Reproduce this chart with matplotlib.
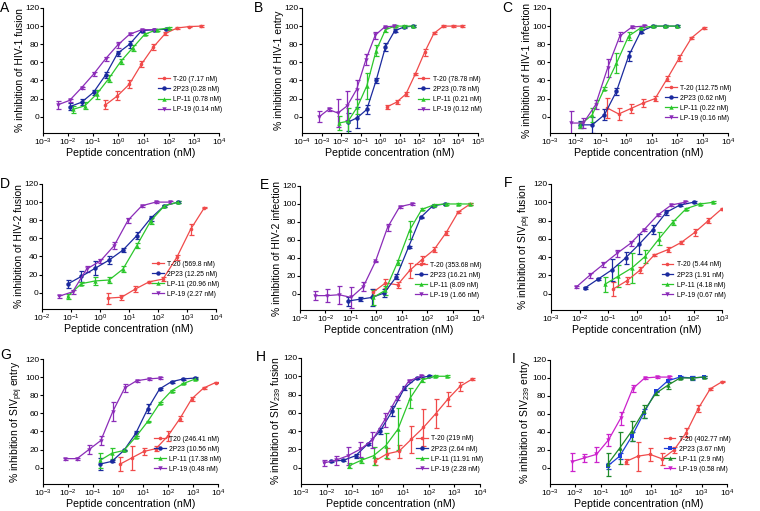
import matplotlib
matplotlib.use("Agg")
import matplotlib.pyplot as plt

plt.rcParams["font.family"] = ["Liberation Sans", "DejaVu Sans"]
plt.rcParams["mathtext.fontset"] = "custom"
plt.rcParams["mathtext.rm"] = "Liberation Sans"
plt.rcParams["mathtext.it"] = "Liberation Sans:italic"
plt.rcParams["mathtext.default"] = "regular"

RED = "#f04a4a"
BLUE = "#1b2a9e"
GREEN = "#2cc72c"
PURPLE = "#8b2cb8"

# concentrations from 3-fold dilution series (nM)
def dil(top, n=9):
    return [top / 3 ** k for k in range(n - 1, -1, -1)]

# ---------------------------------------------------------------------------
# A  HIV-1 fusion
# ---------------------------------------------------------------------------
a_t20_x = dil(2000)
a_t20_y = [13, 23, 36, 58, 77, 92, 98, 99.5, 100]
a_t20_e = [5, 5, 4, 3, 3, 2, 1, 1, 1]
a_2p23_x = dil(75)
a_2p23_y = [11, 16, 27, 46, 70, 80, 95, 96, 96.5]
a_2p23_e = [4, 3, 3, 3, 3, 4, 1, 1, 1]
a_lp11_x = dil(100)
a_lp11_y = [8, 12, 25, 42, 61, 76, 91, 96, 98]
a_lp11_e = [4, 4, 5, 4, 3, 3, 1, 1, 1]
a_lp19_x = dil(25)
a_lp19_y = [13, 18, 32, 47, 64, 79, 91, 96, 96]
a_lp19_e = [4, 2, 1, 2, 2, 3, 1, 1, 1]
a_labels = ["T-20 (7.17 nM)", "2P23 (0.28 nM)", "LP-11 (0.78 nM)", "LP-19 (0.14 nM)"]

# B  HIV-1 entry
b_t20_x = dil(15000)
b_t20_y = [11, 16, 25, 47, 71, 92, 100, 100, 100]
b_t20_e = [2, 2, 2, 1, 4, 1, 1, 1, 1]
b_2p23_x = dil(50, 8)
b_2p23_y = [-6, -1, 8, 40, 77, 95, 99, 100]
b_2p23_e = [10, 12, 5, 3, 4, 2, 1, 1]
b_lp11_x = dil(50)
b_lp11_y = [-7, -5, 11, 34, 73, 96, 100, 100, 100]
b_lp11_e = [8, 15, 8, 14, 6, 3, 1, 1, 1]
b_lp19_x = dil(5)
b_lp19_y = [0, 8, 4, 12, 30, 63, 90, 99, 100]
b_lp19_e = [6, 2, 15, 16, 11, 6, 4, 1, 1]
b_labels = ["T-20 (78.78 nM)", "2P23 (0.78 nM)", "LP-11 (0.21 nM)", "LP-19 (0.12 nM)"]

# C  HIV-1 infection
c_t20_x = dil(1100)
c_t20_y = [10, 3, 9, 15, 20, 42, 65, 87, 98]
c_t20_e = [11, 7, 5, 4, 3, 3, 3, 1, 1]
c_2p23_x = dil(100)
c_2p23_y = [-9, -9, 2, 28, 67, 94, 100, 100, 100]
c_2p23_e = [4, 9, 6, 4, 6, 2, 1, 1, 1]
c_lp11_x = dil(100)
c_lp11_y = [-9, 2, 31, 59, 89, 98, 100, 100, 100]
c_lp11_e = [3, 8, 2, 11, 4, 1, 1, 1, 1]
c_lp19_x = dil(5, 7)
c_lp19_y = [-7, -7, 13, 54, 89, 99, 100]
c_lp19_e = [13, 6, 5, 10, 5, 1, 1]
c_labels = ["T-20 (112.75 nM)", "2P23 (0.62 nM)", "LP-11 (0.22 nM)", "LP-19 (0.16 nM)"]

# D  HIV-2 fusion
d_t20_x = dil(4000, 8)
d_t20_y = [-6, -5, 4, 12, 15, 39, 70, 94]
d_t20_e = [6, 3, 3, 1, 2, 3, 6, 1]
d_2p23_x = dil(500)
d_2p23_y = [9.5, 18, 27, 36, 47, 63, 82, 96, 100]
d_2p23_e = [4, 6, 8, 4, 2, 4, 3, 1, 1]
d_lp11_x = dil(500)
d_lp11_y = [-4, 10, 13, 14, 26, 52, 79, 96, 100]
d_lp11_e = [3, 2, 4, 3, 3, 3, 3, 1, 1]
d_lp19_x = dil(250)
d_lp19_y = [-4, 1, 26, 35, 52, 80, 96, 100, 100]
d_lp19_e = [2, 2, 3, 2, 4, 3, 1, 1, 1]
d_labels = ["T-20 (569.8 nM)", "2P23 (12.25 nM)", "LP-11 (20.96 nM)", "LP-19 (2.27 nM)"]

# E  HIV-2 infection
e_t20_x = dil(5000)
e_t20_y = [2, 12, 10, 26, 38, 49, 68, 91, 100]
e_t20_e = [3, 5, 3, 8, 4, 3, 2, 1, 1]
e_2p23_x = dil(500)
e_2p23_y = [-8, -6, -4, 1, 19, 52, 85, 98, 100]
e_2p23_e = [5, 2, 9, 4, 3, 1, 1, 1, 1]
e_lp11_x = dil(5000)
e_lp11_y = [-4, 4, 35, 71, 94, 99, 100, 100, 100]
e_lp11_e = [8, 5, 3, 10, 1, 1, 1, 1, 1]
e_lp19_x = dil(25)
e_lp19_y = [-2, -2, -1, -4, 8, 36, 74, 97, 100]
e_lp19_e = [5, 7, 10, 12, 5, 1, 4, 1, 1]
e_labels = ["T-20 (353.68 nM)", "2P23 (16.21 nM)", "LP-11 (8.09 nM)", "LP-19 (1.66 nM)"]

# F  SIVpbj fusion
f_t20_x = dil(1000)
f_t20_y = [5, 14, 26, 42, 48, 56, 67, 80, 93]
f_t20_e = [8, 4, 3, 1, 3, 2, 4, 3, 1]
f_2p23_x = dil(100)
f_2p23_y = [6, 16, 26, 39, 54, 70, 89, 97, 100]
f_2p23_e = [1, 1, 12, 7, 11, 5, 3, 1, 1]
f_lp11_x = dil(500)
f_lp11_y = [10, 19, 28, 41, 60, 78, 93, 98, 100]
f_lp11_e = [8, 12, 16, 7, 7, 3, 1, 1, 1]
f_lp19_x = dil(50)
f_lp19_y = [7, 20, 32, 44, 55, 70, 86, 97, 100]
f_lp19_e = [1, 3, 3, 4, 3, 1, 1, 1, 1]
f_labels = ["T-20 (5.44 nM)", "2P23 (1.91 nM)", "LP-11 (4.18 nM)", "LP-19 (0.67 nM)"]

# G  SIVpbj entry
g_t20_x = dil(8000)
g_t20_y = [4, 11, 18, 21, 35, 54, 76, 88, 94]
g_t20_e = [8, 13, 4, 3, 6, 3, 2, 1, 1]
g_2p23_x = dil(1250)
g_2p23_y = [4, 7, 19, 38, 65, 87, 95, 98, 99]
g_2p23_e = [7, 1, 1, 3, 5, 1, 1, 1, 1]
g_lp11_x = dil(1250)
g_lp11_y = [8, 16, 19, 34, 51, 71, 85, 93, 98]
g_lp11_e = [8, 6, 1, 1, 1, 1, 1, 1, 1]
g_lp19_x = dil(50)
g_lp19_y = [10, 10, 20, 30, 62, 88, 96, 98, 99]
g_lp19_e = [1, 1, 5, 5, 10, 4, 1, 1, 1]
g_labels = ["T20 (246.41 nM)", "2P23 (10.56 nM)", "LP-11 (17.38 nM)", "LP-19 (0.48 nM)"]

# H  SIV239 fusion
h_t20_x = dil(5000)
h_t20_y = [7, 15, 18, 31, 44, 59, 75, 89, 97]
h_t20_e = [4, 6, 7, 15, 20, 16, 8, 5, 1]
h_2p23_x = dil(100)
h_2p23_y = [7, 8, 13, 26, 40, 62, 87, 98, 100]
h_2p23_e = [1, 1, 2, 1, 3, 5, 2, 1, 1]
h_lp11_x = dil(500)
h_lp11_y = [2, 8, 13, 24, 42, 76, 96, 100, 100]
h_lp11_e = [3, 3, 10, 14, 23, 11, 2, 1, 1]
h_lp19_x = dil(50)
h_lp19_y = [5, 8, 13, 20, 30, 52, 76, 95, 100]
h_lp19_e = [3, 5, 10, 8, 9, 8, 2, 1, 1]
h_labels = ["T-20 (219 nM)", "2P23 (2.64 nM)", "LP-11 (11.91 nM)", "LP-19 (2.28 nM)"]

# I  SIV239 entry
i_t20_x = dil(6561)
i_t20_y = [7, 13, 15, 10, 20, 39, 66, 88, 96]
i_t20_e = [3, 16, 7, 7, 3, 5, 4, 1, 1]
i_2p23_x = dil(1250)
i_2p23_y = [2, 13, 35, 61, 85, 97, 101, 100, 101]
i_2p23_e = [3, 3, 5, 5, 1, 2, 1, 2, 1]
i_lp11_x = dil(1250)
i_lp11_y = [4, 22, 41, 63, 83, 92, 100, 100, 101]
i_lp11_e = [13, 18, 11, 7, 2, 4, 1, 1, 1]
i_lp19_x = dil(50)
i_lp19_y = [7, 11, 15, 31, 55, 88, 100, 101, 101]
i_lp19_e = [10, 4, 8, 7, 7, 4, 1, 1, 1]
i_labels = ["T-20 (402.77 nM)", "2P23 (3.67 nM)", "LP-11 (2.9 nM)", "LP-19 (0.58 nM)"]

W, H = 760, 511
fig = plt.figure(figsize=(W / 100, H / 100), dpi=100)


def panel(box, letter, letter_xy, ylabel, xexp, series, labels, leg_y,
          colors=(RED, BLUE, GREEN, PURPLE), markers=("o", "o", "^", "v")):
    l, t, r, b = box
    ax = fig.add_axes([l / W, 1 - b / H, (r - l) / W, (b - t) / H])
    handles = []
    for (x, y, e), lab, c, m in zip(series, labels, colors, markers):
        ax.errorbar(x, y, yerr=e, fmt="none", ecolor=c, elinewidth=0.9,
                    capsize=1.8, capthick=0.9, zorder=2)
        ms = 2.6 if m == "o" and c == RED else 3.2
        ln, = ax.plot(x, y, color=c, lw=0.9, marker=m, ms=ms, mew=0, zorder=3)
        handles.append(ln)
    ax.set_xscale("log")
    ax.set_xlim(10.0 ** xexp[0], 10.0 ** xexp[1])
    ax.set_ylim(-18, 120)
    ax.set_yticks(range(0, 121, 20))
    ticks = list(range(xexp[0], xexp[1] + 1))
    ax.set_xticks([10.0 ** k for k in ticks])
    ax.set_xticklabels([f"$10^{{{k}}}$" for k in ticks])
    ax.minorticks_off()
    ax.tick_params(labelsize=6, length=2, width=0.8, pad=0.8)
    for s in ("top", "right"):
        ax.spines[s].set_visible(False)
    for s in ("left", "bottom"):
        ax.spines[s].set_linewidth(0.8)
    ax.set_xlabel("Peptide concentration (nM)", fontsize=7.7, labelpad=0)
    ax.set_ylabel(ylabel, fontsize=7.5, labelpad=0)
    ax.legend(handles, labels, loc="lower right", bbox_to_anchor=(1.02, leg_y),
              frameon=False, fontsize=4.9, handlelength=1.7, handletextpad=0.5,
              labelspacing=0.45, borderpad=0, borderaxespad=0)
    fig.text(letter_xy[0] / W, 1 - letter_xy[1] / H, letter, fontsize=10,
             ha="left", va="top")
    return ax


panel((43, 8, 219, 133), "A", (0, 1), "% inhibition of HIV-1 fusion", (-3, 4),
      [(a_t20_x, a_t20_y, a_t20_e), (a_2p23_x, a_2p23_y, a_2p23_e),
       (a_lp11_x, a_lp11_y, a_lp11_e), (a_lp19_x, a_lp19_y, a_lp19_e)],
      a_labels, 0.16)
panel((302, 8, 478, 133), "B", (254, 1), "% inhibition of HIV-1 entry", (-4, 5),
      [(b_t20_x, b_t20_y, b_t20_e), (b_2p23_x, b_2p23_y, b_2p23_e),
       (b_lp11_x, b_lp11_y, b_lp11_e), (b_lp19_x, b_lp19_y, b_lp19_e)],
      b_labels, 0.16)
panel((550, 8, 728, 133), "C", (502, 1), "% inhibition of HIV-1 infection", (-3, 4),
      [(c_t20_x, c_t20_y, c_t20_e), (c_2p23_x, c_2p23_y, c_2p23_e),
       (c_lp11_x, c_lp11_y, c_lp11_e), (c_lp19_x, c_lp19_y, c_lp19_e)],
      c_labels, 0.09)
panel((42, 184, 216, 309), "D", (0, 177), "% inhibition of HIV-2 fusion", (-2, 4),
      [(d_t20_x, d_t20_y, d_t20_e), (d_2p23_x, d_2p23_y, d_2p23_e),
       (d_lp11_x, d_lp11_y, d_lp11_e), (d_lp19_x, d_lp19_y, d_lp19_e)],
      d_labels, 0.09)
panel((300, 186, 478, 310), "E", (260, 178), "% inhibition of HIV-2 infection", (-3, 4),
      [(e_t20_x, e_t20_y, e_t20_e), (e_2p23_x, e_2p23_y, e_2p23_e),
       (e_lp11_x, e_lp11_y, e_lp11_e), (e_lp19_x, e_lp19_y, e_lp19_e)],
      e_labels, 0.09)
panel((551, 184, 722, 310), "F", (504, 176), r"% inhibition of SIV$_{pbj}$ fusion", (-3, 3),
      [(f_t20_x, f_t20_y, f_t20_e), (f_2p23_x, f_2p23_y, f_2p23_e),
       (f_lp11_x, f_lp11_y, f_lp11_e), (f_lp19_x, f_lp19_y, f_lp19_e)],
      f_labels, 0.09)
panel((43, 359, 218, 484), "G", (0, 348), r"% inhibition of SIV$_{pbj}$ entry", (-3, 4),
      [(g_t20_x, g_t20_y, g_t20_e), (g_2p23_x, g_2p23_y, g_2p23_e),
       (g_lp11_x, g_lp11_y, g_lp11_e), (g_lp19_x, g_lp19_y, g_lp19_e)],
      g_labels, 0.09)
panel((301, 358, 480, 484), "H", (256, 350), r"% inhibition of SIV$_{239}$ fusion", (-3, 4),
      [(h_t20_x, h_t20_y, h_t20_e), (h_2p23_x, h_2p23_y, h_2p23_e),
       (h_lp11_x, h_lp11_y, h_lp11_e), (h_lp19_x, h_lp19_y, h_lp19_e)],
      h_labels, 0.09)
panel((550, 360, 727, 484), "I", (512, 352), r"% inhibition of SIV$_{239}$ entry", (-3, 4),
      [(i_t20_x, i_t20_y, i_t20_e), (i_2p23_x, i_2p23_y, i_2p23_e),
       (i_lp11_x, i_lp11_y, i_lp11_e), (i_lp19_x, i_lp19_y, i_lp19_e)],
      i_labels, 0.09,
      colors=(RED, "#1f3fd8", "#1f8a2a", "#cc22cc"),
      markers=("o", "s", "^", "v"))

fig.savefig("out.png", dpi=100)
